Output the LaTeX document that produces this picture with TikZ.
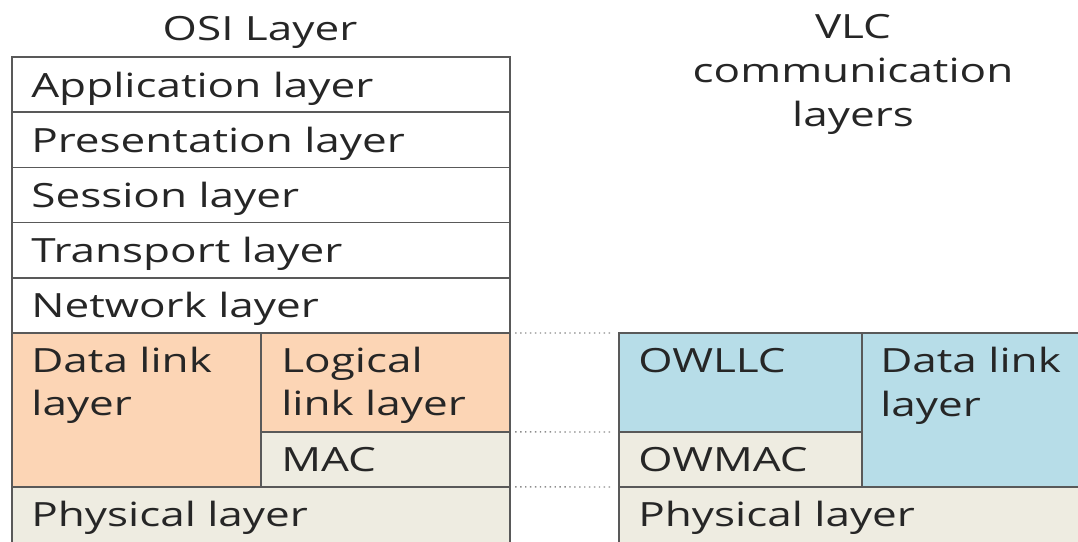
\documentclass[tikz,border=0pt]{standalone}
\usepackage{fontspec}
\setmainfont{Open Sans}[FakeStretch = 1.32]
\usetikzlibrary{positioning}

\definecolor{peach}{HTML}{FCD5B5}
\definecolor{sand}{HTML}{EEECE1}
\definecolor{sky}{HTML}{B7DDE8}
\definecolor{rule}{HTML}{595959}
\definecolor{ink}{HTML}{262626}
\definecolor{dots}{HTML}{8C8C8C}

\begin{document}
\begin{tikzpicture}[
            x = 0.02cm, y = -0.02cm,
            every node/.style = {font = \fontsize{19}{25}\selectfont},
            cell/.style = {draw = rule, line width = 1pt, rectangle, inner sep = 0pt, outer sep = 0pt, anchor = north west},
            row/.style = {cell, minimum width = 9.96cm, minimum height = 1.104cm},
            txt/.style = {anchor = base west, inner sep = 0pt, align = left, text = ink},
            title/.style = {anchor = base, inner sep = 0pt, align = center, text = ink},
            link/.style = {dotted, draw = dots, line width = 0.8pt, shorten <= 3pt, shorten >= 4pt}
            ]
            \useasboundingbox (0,0) rectangle (1078,541);
            % OSI stack
            \node[row] (app) at (12,57) {};
            \node[row, below = 0pt of app] (pres) {};
            \node[row, below = 0pt of pres] (sess) {};
            \node[row, below = 0pt of sess] (trans) {};
            \node[row, below = 0pt of trans] (net) {};
            \node[cell, fill = peach, minimum width = 4.98cm, minimum height = 3.08cm] (dll) at (net.south west) {};
            \node[cell, fill = peach, minimum width = 4.98cm, minimum height = 1.98cm] (llc) at (dll.north east) {};
            \node[cell, fill = sand, minimum width = 4.98cm, minimum height = 1.1cm] (mac) at (llc.south west) {};
            \node[cell, fill = sand, minimum width = 9.96cm, minimum height = 1.2cm] (phy) at (dll.south west) {};
            % VLC stack
            \node[cell, fill = sky, minimum width = 4.86cm, minimum height = 1.98cm] (owllc) at (619,333) {};
            \node[cell, fill = sand, minimum width = 4.86cm, minimum height = 1.1cm] (owmac) at (owllc.south west) {};
            \node[cell, fill = sky, minimum width = 4.56cm, minimum height = 3.08cm] (vdll) at (owllc.north east) {};
            \node[cell, fill = sand, minimum width = 9.42cm, minimum height = 1.2cm] (vphy) at (owmac.south west) {};
            % dotted links
            \draw[link] (net.south east) -- (owllc.north west);
            \draw[link] (llc.south east) -- (owmac.north west);
            \draw[link] (mac.south east) -- (vphy.north west);
            % labels (base of a two-line node is its last line)
            \node[title] (osi) at (260,40) {OSI Layer};
            \node[title] (vlc) at (853,126) {VLC\\communication\\layers};
            \node[txt] (t-app) at ([shift = {(19,40)}]app.north west) {Application layer};
            \node[txt] (t-pres) at ([shift = {(19,40)}]pres.north west) {Presentation layer};
            \node[txt] (t-sess) at ([shift = {(19,40)}]sess.north west) {Session layer};
            \node[txt] (t-trans) at ([shift = {(19,40)}]trans.north west) {Transport layer};
            \node[txt] (t-net) at ([shift = {(19,40)}]net.north west) {Network layer};
            \node[txt] (t-dll) at ([shift = {(19,83)}]dll.north west) {Data link\\layer};
            \node[txt] (t-llc) at ([shift = {(20,83)}]llc.north west) {Logical\\link layer};
            \node[txt] (t-mac) at ([shift = {(20,40)}]mac.north west) {MAC};
            \node[txt] (t-phy) at ([shift = {(19,40)}]phy.north west) {Physical layer};
            \node[txt] (t-owllc) at ([shift = {(19,39)}]owllc.north west) {OWLLC};
            \node[txt] (t-owmac) at ([shift = {(19,40)}]owmac.north west) {OWMAC};
            \node[txt] (t-vdll) at ([shift = {(18,83)}]vdll.north west) {Data link\\layer};
            \node[txt] (t-vphy) at ([shift = {(19,40)}]vphy.north west) {Physical layer};
          \end{tikzpicture}
\end{document}
